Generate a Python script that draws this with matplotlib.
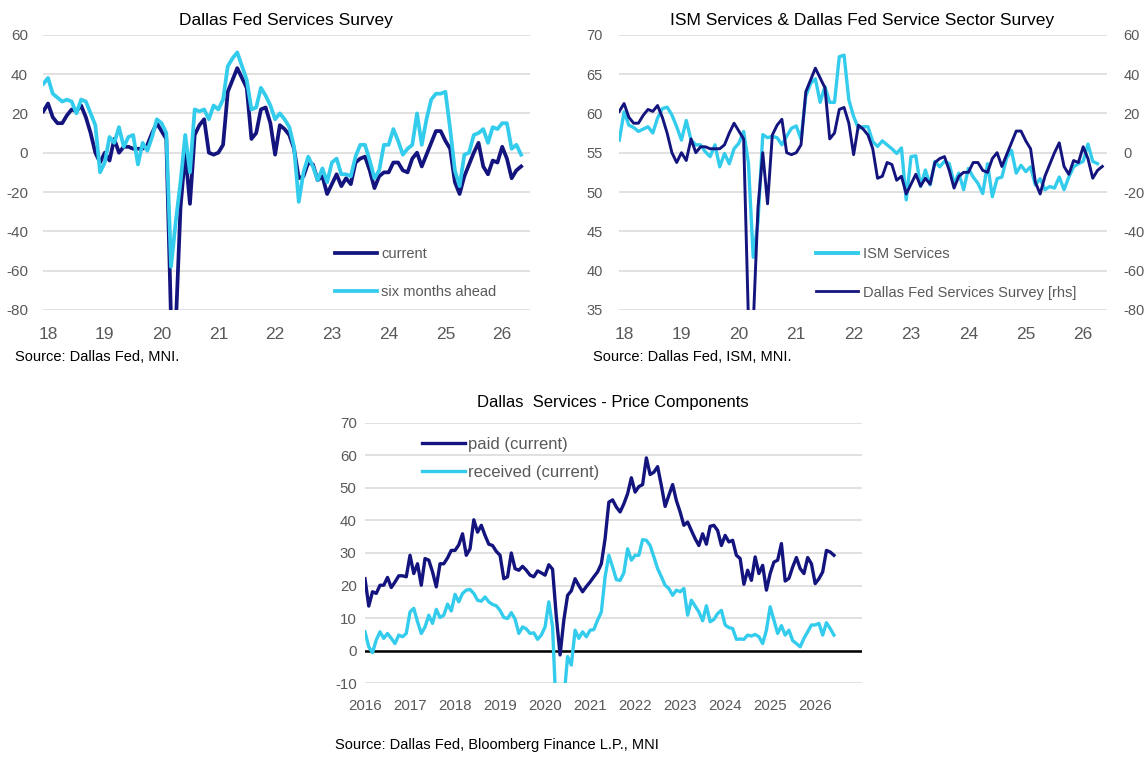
import numpy as np
import matplotlib.pyplot as plt
from matplotlib.lines import Line2D

plt.rcParams["font.family"] = ["Liberation Sans", "DejaVu Sans"]
plt.rcParams["axes.unicode_minus"] = False

NAVY = "#14147f"
CYAN = "#33ccec"
GRID = "#d9d9d9"
GREY = "#595959"

W, H = 1148, 759

# Dallas Fed services survey, monthly from Dec 2017
current = [21, 25, 18, 15, 15, 19, 22, 21, 24, 18,
           10, 0, -5, 0, -4, 7, 0, 3, 3, 2,
           2, 2, 4, 10, 15, 11, 7, -85, -88, -28,
           0, -26, 9, 14, 17, 0, -1, 0, 4, 31,
           37, 43, 38, 33, 7, 10, 22, 23,
           15, -1, 14, 12, 9, 2, -13, -12, -5, -6,
           -14, -12, -21, -16, -11, -17, -13, -16, -5, -3,
           -2, -9, -18, -12, -10, -10, -5, -5, -9, -10,
           -3, 0, -7, -1, 5, 11, 11, 6, 2, -15,
           -21, -12, -6, 0, 5, -7, -11, -4, -5, 3,
           -3, -13, -9, -7]
six_months = [35, 38, 30, 28, 26, 27, 26, 20, 27, 26,
              20, 14, -10, -5, 8, 5, 13, 3, 8, 9,
              -6, 5, 1, 8, 17, 15, 10, -58, -35, -15,
              9, -10, 22, 21, 22, 17, 24, 22, 27, 44,
              48, 51, 44, 37, 22, 23, 33, 29,
              24, 17, 20, 17, 13, 3, -25, -10, -2, -7,
              -14, -8, -15, -5, -3, -11, -11, -12, -2, 4,
              4, -4, -13, -9, 4, 4, 12, 6, -1, 2,
              4, 20, 4, 17, 27, 30, 30, 31, 12, -9,
              -17, -1, 0, 9, 10, 12, 5, 13, 12, 15,
              15, 2, 4, -1]

# ISM services PMI, monthly from Dec 2017
ism = [56.6, 60.2, 58.5, 58.2, 57.7, 58.0, 58.3, 57.5, 59.4, 60.6,
       60.8, 59.8, 58.3, 56.6, 59.1, 56.6, 56.0, 56.0, 55.1, 54.5,
       56.0, 53.2, 54.9, 53.6, 55.5, 56.2, 57.7, 53.7, 41.7, 46.2,
       57.3, 56.9, 57.1, 56.9, 56.0, 57.1, 58.1, 58.4, 56.7, 62.2,
       63.8, 64.4, 61.4, 63.4, 61.4, 61.4, 67.2, 67.4, 61.7, 59.6,
       58.1, 58.3, 58.3, 56.4,
       55.8, 56.5, 56.0, 55.5, 54.9, 55.6, 49.0, 54.5, 54.6, 50.7,
       52.8, 50.9, 53.9, 53.2, 53.9, 53.6, 51.1, 52.4, 50.3, 53.0,
       51.9, 51.1, 49.8, 53.6, 49.4, 51.7, 51.9, 54.3, 55.3, 52.4,
       53.4, 52.6, 53.2, 50.9, 51.7, 50.3, 50.7, 50.5, 51.9, 50.3,
       51.9, 53.2, 53.6, 53.9, 56.1, 53.9, 53.6]

# price components, monthly from Jan 2016
paid = [22.1, 13.7, 18.1, 17.6, 20.1, 20.1, 22.5, 19.4, 21.1, 23.0,
        23.0, 22.7, 29.3, 23.7, 26.7, 20.1, 28.3, 27.8, 24.2, 19.6,
        26.7, 26.7, 28.5, 30.8, 30.8, 32.5, 35.9, 29.3, 31.3, 40.2,
        36.4, 38.5, 35.4, 32.7, 32.3, 30.5, 29.3, 22.1, 22.7, 30.0,
        25.2, 24.7, 25.9, 24.7, 23.2, 22.7, 24.5, 23.9, 23.2, 26.4,
        25.0, 10.4, -1.3, 9.4, 17.0, 18.4, 22.1, 20.0, 18.1, 19.7,
        21.1, 22.7, 24.2, 26.7, 34.4, 45.6, 46.3, 44.1, 42.6, 45.1,
        48.2, 53.1, 48.7, 50.4, 51.0, 59.2, 54.1, 54.8, 56.5, 50.7,
        44.3, 47.7, 51.0, 46.1, 42.6, 38.5, 39.5, 36.9, 34.4, 32.3,
        35.9, 32.7, 38.2, 38.5, 36.9, 32.3, 35.4, 33.4, 33.9, 29.3,
        28.3, 20.4, 24.7, 21.6, 28.8, 23.7, 26.2, 18.6, 23.7, 27.2,
        27.8, 32.9, 21.4, 22.2, 25.7, 28.6, 25.2, 23.7, 28.6, 26.7,
        20.6, 22.1, 24.2, 30.8, 30.3, 29.3]
received = [5.8, 1.2, -0.6, 3.3, 5.8, 3.8, 5.3, 3.8, 2.2, 4.8,
            4.3, 5.3, 11.9, 13.0, 8.9, 5.3, 7.3, 10.9, 8.4, 12.7,
            10.2, 10.9, 14.3, 12.2, 17.3, 15.0, 17.6, 18.6, 18.8, 17.6,
            15.5, 15.2, 16.5, 15.0, 14.2, 13.8, 12.4, 10.2, 9.9, 11.7,
            9.7, 5.3, 7.3, 6.7, 5.3, 5.5, 3.5, 4.8, 7.3, 15.0,
            7.3, -20, -25, -15, -1.8, -4.4, 6.3, 3.8, 5.8, 4.3,
            6.3, 6.5, 9.4, 11.9, 22.7, 29.3, 25.7, 21.8, 21.6, 23.9,
            31.3, 27.8, 29.3, 29.3, 34.1, 33.9, 32.3, 28.8, 25.2, 22.7,
            20.1, 19.1, 17.0, 18.6, 18.1, 19.1, 10.9, 15.5, 13.7, 11.9,
            9.2, 13.8, 8.9, 9.6, 11.4, 12.4, 7.9, 7.1, 6.8, 3.5,
            3.6, 3.5, 4.8, 4.5, 5.0, 4.3, 2.2, 6.3, 13.5, 9.4,
            5.3, 7.7, 4.8, 6.3, 3.1, 2.2, 1.2, 3.8, 5.8, 7.9,
            7.9, 8.4, 4.8, 8.6, 6.8, 4.8]

x_dal = 2017 + 11 / 12 + np.arange(len(current)) / 12
x_ism = 2017 + 11 / 12 + np.arange(len(ism)) / 12
x_paid = 2016 + np.arange(len(paid)) / 12
x_recv = 2016 + np.arange(len(received)) / 12


def box(l, t, r, b):
    return [l / W, 1 - b / H, (r - l) / W, (b - t) / H]


def fpos(x, y):
    return x / W, 1 - y / H


def clean(ax, xsize, ysize, xpad, ypad):
    for s in ax.spines.values():
        s.set_visible(False)
    ax.tick_params(length=0, colors=GREY)
    ax.tick_params(axis="x", labelsize=xsize, pad=xpad)
    ax.tick_params(axis="y", labelsize=ysize, pad=ypad)
    ax.grid(axis="y", color=GRID, lw=1.1)
    ax.set_axisbelow(True)


fig = plt.figure(figsize=(11.48, 7.59), dpi=100)

# panel 1
ax1 = fig.add_axes(box(43.3, 34.7, 530, 310))
ax1.plot(x_dal, current, color=NAVY, lw=2.7, label="current")
ax1.plot(x_dal, six_months, color=CYAN, lw=2.7, label="six months ahead")
ax1.set_ylim(-80, 60)
ax1.set_yticks(range(-80, 61, 20))
ax1.set_xlim(2017 + 11 / 12, 2026.49)
years = np.arange(2018, 2027)
ax1.set_xticks(years)
ax1.set_xticklabels([str(y)[2:] for y in years])
clean(ax1, 12.5, 11, 12, 11)
ax1.legend(loc="upper left", bbox_to_anchor=fpos(335, 247), bbox_transform=fig.transFigure,
           frameon=False, fontsize=10.5, handlelength=2.86, handletextpad=0.3,
           labelspacing=1.68, borderpad=0, borderaxespad=0, labelcolor=GREY)
fig.text(*fpos(286, 20), "Dallas Fed Services Survey", ha="center", va="center", fontsize=12.5)
fig.text(*fpos(15, 357), "Source: Dallas Fed, MNI.", ha="left", va="center", fontsize=10.5)

# panel 2
ax2 = fig.add_axes(box(619.3, 34.7, 1106.7, 310))
ax2.plot(x_ism, ism, color=CYAN, lw=2.4)
ax2.set_ylim(35, 70)
ax2.set_yticks(range(35, 71, 5))
ax2.set_xlim(2017 + 11 / 12, 2026.41)
ax2.set_xticks(years)
ax2.set_xticklabels([str(y)[2:] for y in years])
clean(ax2, 12.5, 10.5, 12, 12)
ax2r = ax2.twinx()
ax2r.plot(x_dal, current, color=NAVY, lw=2.1)
ax2r.set_ylim(-80, 60)
ax2r.set_yticks(range(-80, 61, 20))
for s in ax2r.spines.values():
    s.set_visible(False)
ax2r.tick_params(length=0, colors=GREY, labelsize=10.5, pad=12)
handles2 = [Line2D([], [], color=CYAN, lw=2.8), Line2D([], [], color=NAVY, lw=2.0)]
fig.legend(handles2, ["ISM Services", "Dallas Fed Services Survey [rhs]"],
           loc="upper left", bbox_to_anchor=fpos(816, 247), bbox_transform=fig.transFigure,
           frameon=False, fontsize=10.5, handlelength=2.9, handletextpad=0.3,
           labelspacing=1.68, borderpad=0, borderaxespad=0, labelcolor=GREY)
fig.text(*fpos(862, 20), "ISM Services & Dallas Fed Service Sector Survey", ha="center",
         va="center", fontsize=12.5)
fig.text(*fpos(593, 357), "Source: Dallas Fed, ISM, MNI.", ha="left", va="center", fontsize=10.5)

# panel 3
ax3 = fig.add_axes(box(365, 422.7, 862, 683.3))
ax3.plot(x_paid, paid, color=NAVY, lw=2.4, label="paid (current)")
ax3.plot(x_recv, received, color=CYAN, lw=2.4, label="received (current)")
ax3.axhline(0, color="black", lw=1.8, zorder=1.5)
ax3.set_ylim(-10, 70)
ax3.set_yticks(range(-10, 71, 10))
ax3.set_xlim(2016, 2027.04)
ax3.set_xticks(np.arange(2016, 2027))
clean(ax3, 10.8, 10.8, 11.5, 6)
ax3.legend(loc="upper left", bbox_to_anchor=fpos(421.7, 437), bbox_transform=fig.transFigure,
           frameon=False, fontsize=12, handlelength=2.6, handletextpad=0.15,
           labelspacing=0.78, borderpad=0, borderaxespad=0, labelcolor=GREY)
fig.text(*fpos(613, 403), "Dallas  Services - Price Components", ha="center", va="center",
         fontsize=12)
fig.text(*fpos(335, 745), "Source: Dallas Fed, Bloomberg Finance L.P., MNI", ha="left",
         va="center", fontsize=10.5)

fig.savefig("out.png", dpi=100)
